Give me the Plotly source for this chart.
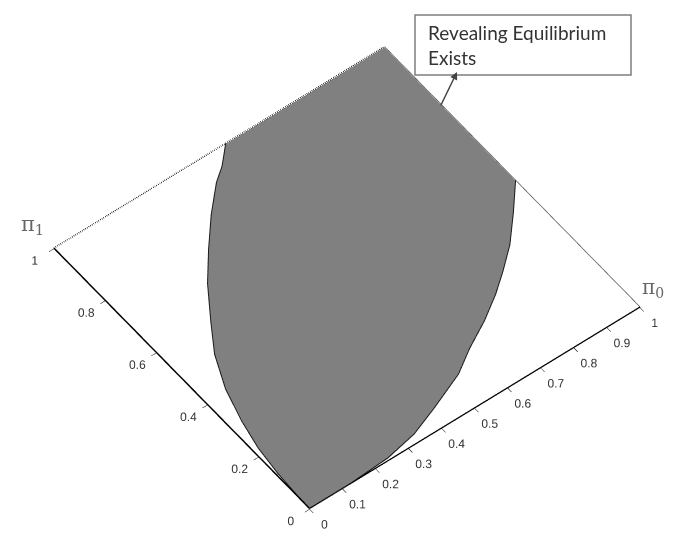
import plotly.graph_objects as go

# ---- data ----
pi0_tickvals = [0, 0.1, 0.2, 0.3, 0.4, 0.5, 0.6, 0.7, 0.8, 0.9, 1]
pi0_ticktext = ["0", "0.1", "0.2", "0.3", "0.4", "0.5", "0.6", "0.7", "0.8", "0.9", "1"]
pi1_tickvals = [0, 0.2, 0.4, 0.6, 0.8, 1]
pi1_ticktext = ["0", "0.2", "0.4", "0.6", "0.8", "1"]

# lower-right boundary of the region (pi0, pi1), from origin to the pi0 = 1 edge
right_pi0 = [0.0, 0.12, 0.243, 0.337, 0.423, 0.532, 0.60, 0.68, 0.75, 0.806, 0.869, 0.937, 1.0]
right_pi1 = [0.0, 0.0, 0.007, 0.026, 0.059, 0.105, 0.15, 0.195, 0.242, 0.286, 0.34, 0.414, 0.487]
# upper-left boundary of the region (pi0, pi1), from origin to the pi1 = 1 edge
left_pi0 = [0.0, 0.001, 0.005, 0.015, 0.034, 0.063, 0.107, 0.158, 0.225, 0.29, 0.36, 0.43, 0.47, 0.52]
left_pi1 = [0.0, 0.05, 0.13, 0.22, 0.31, 0.41, 0.51, 0.59, 0.69, 0.77, 0.85, 0.92, 0.95, 1.0]
corner_pi0 = [1.0]
corner_pi1 = [1.0]

# ---- build polygon ----
poly_u = right_pi0 + corner_pi0 + left_pi0[::-1][:-1]
poly_v = right_pi1 + corner_pi1 + left_pi1[::-1][:-1]
n = len(poly_u)
I = [0] * (n - 2)
J = list(range(1, n - 1))
K = list(range(2, n))
ZL = 0.3  # lift lines slightly above the filled area

fig = go.Figure()
fig.add_trace(go.Mesh3d(
    x=poly_u, y=poly_v, z=[0] * n, i=I, j=J, k=K,
    color="#808080", flatshading=True,
    lighting=dict(ambient=1, diffuse=0, specular=0, roughness=1, fresnel=0),
    hoverinfo="skip", showscale=False))

# region outline
fig.add_trace(go.Scatter3d(x=right_pi0, y=right_pi1, z=[ZL] * len(right_pi0), mode="lines",
                           line=dict(color="#1a1a1a", width=2), hoverinfo="skip"))
fig.add_trace(go.Scatter3d(x=left_pi0, y=left_pi1, z=[ZL] * len(left_pi0), mode="lines",
                           line=dict(color="#1a1a1a", width=2), hoverinfo="skip"))

# box edges
lo, hi = pi0_tickvals[0], pi0_tickvals[-1]
fig.add_trace(go.Scatter3d(x=[lo, hi], y=[hi, hi], z=[ZL, ZL], mode="lines",
                           line=dict(color="#000000", width=3, dash="dot"), hoverinfo="skip"))
fig.add_trace(go.Scatter3d(x=[hi, hi], y=[lo, hi], z=[ZL, ZL], mode="lines",
                           line=dict(color="#555555", width=1.5), hoverinfo="skip"))
fig.add_trace(go.Scatter3d(x=[lo, hi], y=[lo, lo], z=[ZL, ZL], mode="lines",
                           line=dict(color="#000000", width=2.5), hoverinfo="skip"))
fig.add_trace(go.Scatter3d(x=[lo, lo], y=[lo, hi], z=[ZL, ZL], mode="lines",
                           line=dict(color="#000000", width=3), hoverinfo="skip"))

axis_common = dict(showgrid=False, zeroline=False, showbackground=False, showspikes=False,
                   showline=False, ticks="outside", ticklen=6, tickcolor="#000", tickangle=0,
                   tickfont=dict(family="Liberation Sans, Arial", size=12, color="#333"),
                   title=dict(text=""))

fig.update_layout(
    width=678, height=537,
    margin=dict(l=0, r=0, t=0, b=0),
    paper_bgcolor="white",
    showlegend=False,
    scene=dict(
        domain=dict(x=[0.008, 0.993], y=[0.004, 0.994]),
        xaxis=dict(range=[0, 1], tickvals=pi0_tickvals, ticktext=pi0_ticktext, **axis_common),
        yaxis=dict(range=[0, 1], tickvals=pi1_tickvals, ticktext=pi1_ticktext, **axis_common),
        zaxis=dict(range=[0, 1], visible=False),
        aspectmode="manual",
        aspectratio=dict(x=1.571, y=1.571, z=0.0157),
        camera=dict(eye=dict(x=-0.612, y=-0.791, z=1.28),
                    center=dict(x=0, y=0, z=0),
                    up=dict(x=0, y=0, z=1),
                    projection=dict(type="orthographic")),
        annotations=[
            dict(x=0, y=1, z=0, text="π<sub>1</sub>", showarrow=False, xshift=-22, yshift=24,
                 font=dict(family="DejaVu Serif", size=21, color="#666")),
            dict(x=1, y=0, z=0, text="π<sub>0</sub>", showarrow=False, xshift=13, yshift=20,
                 font=dict(family="DejaVu Serif", size=20, color="#666")),
        ],
    ),
    shapes=[dict(type="rect", xref="paper", yref="paper",
                 x0=407 / 678, x1=623 / 678, y0=1 - 67 / 537, y1=1 - 7 / 537,
                 line=dict(color="#7f7f7f", width=1.5), fillcolor="white")],
    annotations=[
        dict(xref="paper", yref="paper", x=418 / 678, y=1 - 37 / 537, xanchor="left", yanchor="middle",
             text="Revealing Equilibrium<br>Exists", showarrow=False, align="left",
             font=dict(family="Lato", size=19, color="#333")),
        dict(xref="paper", yref="paper", x=449 / 678, y=1 - 64 / 537, text="", showarrow=True,
             ax=-17, ay=35, arrowhead=2, arrowsize=1, arrowwidth=1.5, arrowcolor="#444", standoff=0),
    ],
)

fig.write_html("out.html", config=dict(displayModeBar=False))
